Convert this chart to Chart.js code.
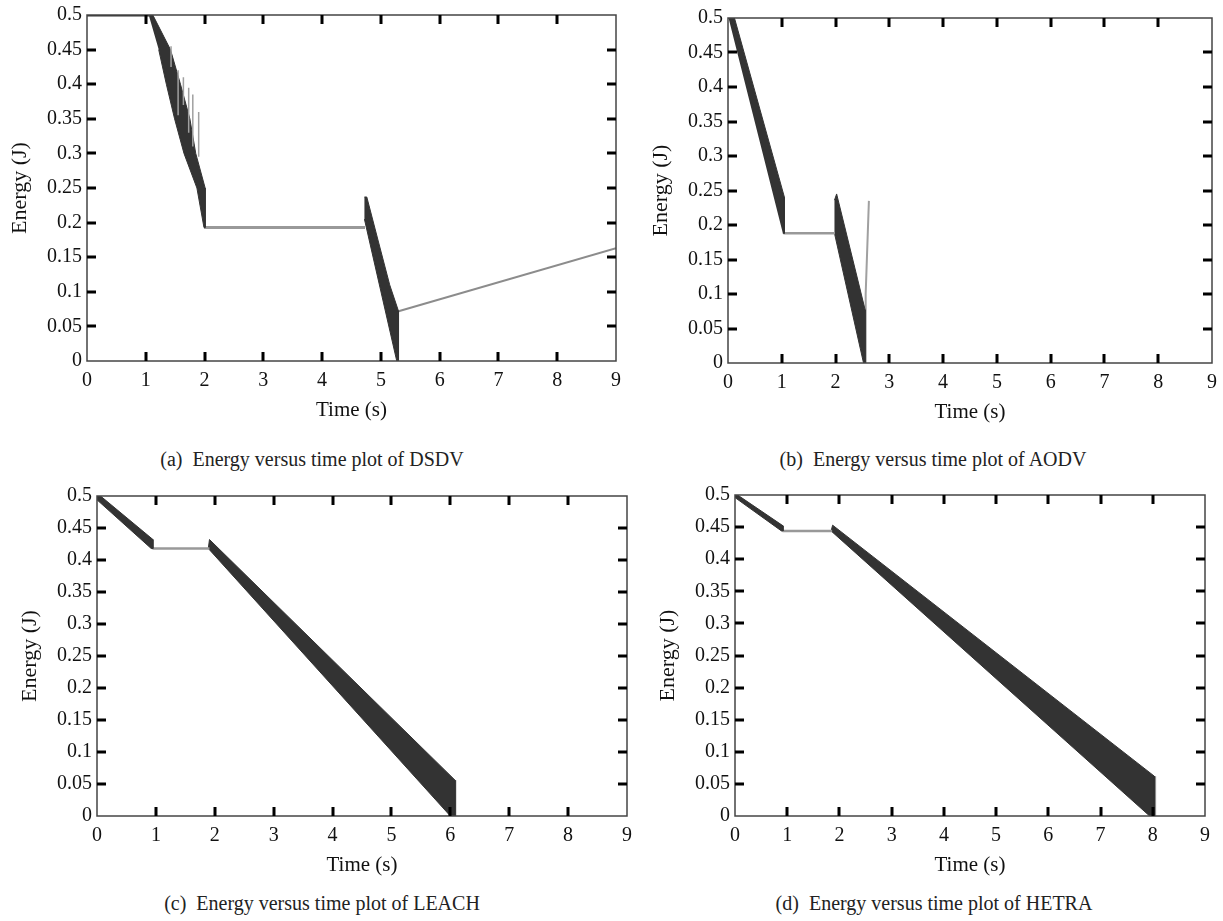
<!DOCTYPE html>
<html>
<head>
<meta charset="utf-8">
<script src="https://cdn.jsdelivr.net/npm/chart.js@4.4.1/dist/chart.umd.min.js"></script>
<style>
  body { margin: 0; background: #fff; width: 1223px; height: 921px; position: relative; overflow: hidden; font-family: 'Liberation Serif', serif; }
  canvas { position: absolute; }
  .cap { position: absolute; font-size: 20px; line-height: 24px; color: #222; white-space: pre; transform: translateX(-50%); }
</style>
</head>
<body>
<canvas id="chartA"></canvas>
<canvas id="chartB"></canvas>
<canvas id="chartC"></canvas>
<canvas id="chartD"></canvas>
<div class="cap" style="left:312px;top:447px">(a)  Energy versus time plot of DSDV</div>
<div class="cap" style="left:933px;top:447px">(b)  Energy versus time plot of AODV</div>
<div class="cap" style="left:322px;top:891px">(c)  Energy versus time plot of LEACH</div>
<div class="cap" style="left:934px;top:891px">(d)  Energy versus time plot of HETRA</div>
<script>
// ---- data (time in s, energy in J) ----

// (a) DSDV
const dsdvFullT = [0.00, 1.06];
const dsdvFullE = [0.500, 0.500];
const dsdvDrain1T = [1.05, 1.12, 1.42, 1.59, 1.75, 1.85, 2.01, 2.01, 1.99, 1.87, 1.65, 1.49, 1.35, 1.22];
const dsdvDrain1E = [0.500, 0.500, 0.450, 0.400, 0.350, 0.300, 0.250, 0.193, 0.193, 0.250, 0.300, 0.350, 0.400, 0.450];
const dsdvSpikeT = [1.43, 1.55, 1.64, 1.73, 1.80, 1.90];
const dsdvSpikeHi = [0.455, 0.420, 0.410, 0.395, 0.385, 0.360];
const dsdvSpikeLo = [0.425, 0.355, 0.370, 0.330, 0.310, 0.295];
const dsdvIdleT = [1.99, 4.73];
const dsdvIdleE = [0.193, 0.193];
const dsdvDrain2T = [4.72, 4.76, 4.95, 5.15, 5.30, 5.30, 5.27, 4.72];
const dsdvDrain2E = [0.237, 0.237, 0.175, 0.110, 0.072, 0.000, 0.000, 0.205];
const dsdvRiseT = [5.30, 9.00];
const dsdvRiseE = [0.072, 0.163];

// (b) AODV
const aodvDrain1T = [0.01, 0.12, 1.05, 1.05, 1.02];
const aodvDrain1E = [0.500, 0.500, 0.240, 0.188, 0.188];
const aodvIdleT = [1.03, 1.99];
const aodvIdleE = [0.188, 0.188];
const aodvDrain2T = [1.98, 2.02, 2.55, 2.55, 2.52, 1.98];
const aodvDrain2E = [0.236, 0.245, 0.077, 0.000, 0.000, 0.188];
const aodvTailT = [2.55, 2.56, 2.60, 2.62];
const aodvTailE = [0.000, 0.100, 0.190, 0.235];

// (c) LEACH
const leachDrain1T = [0.00, 0.06, 0.95, 0.95, 0.92, 0.00];
const leachDrain1E = [0.500, 0.500, 0.432, 0.418, 0.418, 0.494];
const leachIdleT = [0.94, 1.91];
const leachIdleE = [0.418, 0.418];
const leachDrain2T = [1.89, 1.91, 6.08, 6.08, 6.00, 1.89];
const leachDrain2E = [0.418, 0.432, 0.056, 0.000, 0.000, 0.418];
const leachEndT = [6.08, 6.08];
const leachEndE = [0.056, 0.000];
const leachDeadT = [5.00, 6.00];
const leachDeadE = [0.000, 0.000];

// (d) HETRA
const hetraDrain1T = [0.00, 0.05, 0.92, 0.92, 0.89, 0.00];
const hetraDrain1E = [0.500, 0.500, 0.452, 0.444, 0.444, 0.496];
const hetraIdleT = [0.91, 1.86];
const hetraIdleE = [0.444, 0.444];
const hetraDrain2T = [1.84, 1.87, 8.03, 8.03, 7.94, 1.84];
const hetraDrain2E = [0.444, 0.453, 0.062, 0.000, 0.000, 0.444];
const hetraEndT = [8.04, 8.04];
const hetraEndE = [0.062, 0.000];

const timeTicks = [0, 1, 2, 3, 4, 5, 6, 7, 8, 9];
const energyTicks = [0, 0.05, 0.1, 0.15, 0.2, 0.25, 0.3, 0.35, 0.4, 0.45, 0.5];

// ---- layout ----
const Y_W = 80;   // y axis block (title + labels)
const X_H = 62;   // x axis block (labels + title)
const PAD = 16;
const TICK = 9;
const DARK = '#333333';
const GREY = '#999999';

function pts(T, E) {
  return T.map((t, i) => ({x: t, y: E[i]}));
}
function band(T, E) {
  return {data: pts(T, E), borderColor: DARK, backgroundColor: DARK, borderWidth: 1, fill: 'shape'};
}
function trace(T, E, color, width) {
  return {data: pts(T, E), borderColor: color, borderWidth: width, fill: false};
}
function spikes(T, hi, lo) {
  const out = [];
  T.forEach((t, i) => {
    out.push({x: t, y: hi[i]}, {x: t, y: lo[i]}, {x: t, y: null});
  });
  return {data: out, borderColor: '#a0a0a0', borderWidth: 1.5, fill: false, spanGaps: false};
}

// box round the plot with inward tick marks on all four sides
const frame = {
  id: 'frame',
  afterDraw(chart) {
    const ctx = chart.ctx;
    const a = chart.chartArea;
    const xs = chart.scales.x;
    const ys = chart.scales.y;
    ctx.save();
    ctx.strokeStyle = '#444';
    ctx.lineWidth = 1.5;
    ctx.strokeRect(a.left, a.top, a.right - a.left, a.bottom - a.top);
    ctx.fillStyle = '#000000';
    for (const v of timeTicks.slice(1, -1)) {
      const px = Math.round(xs.getPixelForValue(v));
      ctx.fillRect(px - 1.5, a.bottom - TICK, 3, TICK);
      ctx.fillRect(px - 1.5, a.top, 3, TICK);
    }
    for (const v of energyTicks.slice(1, -1)) {
      const py = Math.round(ys.getPixelForValue(v));
      ctx.fillRect(a.left, py - 1.5, TICK, 3);
      ctx.fillRect(a.right - TICK, py - 1.5, TICK, 3);
    }
    ctx.restore();
  }
};

Chart.defaults.font.family = "'Liberation Serif', serif";
Chart.defaults.font.size = 20;
Chart.defaults.color = '#111';

function makePanel(id, box, datasets) {
  const [L, T, R, B] = box;
  const canvas = document.getElementById(id);
  const w = R - L + Y_W + PAD;
  const h = B - T + PAD + X_H;
  canvas.width = w; canvas.height = h;
  canvas.style.width = w + 'px'; canvas.style.height = h + 'px';
  canvas.style.left = (L - Y_W) + 'px';
  canvas.style.top = (T - PAD) + 'px';
  datasets.forEach(d => { d.pointRadius = 0; d.tension = 0; });
  return new Chart(canvas, {
    type: 'line',
    data: {datasets},
    plugins: [frame],
    options: {
      responsive: false,
      animation: false,
      events: [],
      devicePixelRatio: 1,
      layout: {padding: {top: PAD, right: PAD, left: 0, bottom: 0}},
      plugins: {legend: {display: false}, tooltip: {enabled: false}},
      scales: {
        x: {
          type: 'linear', min: timeTicks[0], max: timeTicks[timeTicks.length - 1],
          ticks: {stepSize: 1, padding: 8, maxRotation: 0, callback: v => String(v)},
          grid: {display: false, drawTicks: false},
          border: {display: false},
          title: {display: true, text: 'Time (s)', padding: {top: 0, bottom: 0}, font: {size: 21}},
          afterFit: s => { s.height = X_H; }
        },
        y: {
          type: 'linear', min: energyTicks[0], max: energyTicks[energyTicks.length - 1],
          ticks: {stepSize: 0.05, padding: 5, callback: v => String(+v.toFixed(2))},
          grid: {display: false, drawTicks: false},
          border: {display: false},
          title: {display: true, text: 'Energy (J)', padding: {top: 0, bottom: 0}, font: {size: 22}},
          afterFit: s => { s.width = Y_W; }
        }
      }
    }
  });
}

makePanel('chartA', [87, 14, 616, 361], [
  trace(dsdvFullT, dsdvFullE, DARK, 3),
  spikes(dsdvSpikeT, dsdvSpikeHi, dsdvSpikeLo),
  band(dsdvDrain1T, dsdvDrain1E),
  trace(dsdvIdleT, dsdvIdleE, GREY, 3),
  band(dsdvDrain2T, dsdvDrain2E),
  trace(dsdvRiseT, dsdvRiseE, '#8c8c8c', 2)
]);

makePanel('chartB', [728, 17, 1212, 363], [
  band(aodvDrain1T, aodvDrain1E),
  trace(aodvIdleT, aodvIdleE, GREY, 2.5),
  band(aodvDrain2T, aodvDrain2E),
  trace(aodvTailT, aodvTailE, '#a0a0a0', 2)
]);

makePanel('chartC', [97, 495, 627, 816], [
  trace(leachDeadT, leachDeadE, '#d0d0d0', 2),
  band(leachDrain1T, leachDrain1E),
  trace(leachIdleT, leachIdleE, GREY, 2.5),
  band(leachDrain2T, leachDrain2E),
  trace(leachEndT, leachEndE, '#8c8c8c', 2.5)
]);

makePanel('chartD', [735, 494, 1205, 816], [
  band(hetraDrain1T, hetraDrain1E),
  trace(hetraIdleT, hetraIdleE, GREY, 2.5),
  band(hetraDrain2T, hetraDrain2E),
  trace(hetraEndT, hetraEndE, '#8c8c8c', 2.5)
]);
</script>
</body>
</html>
